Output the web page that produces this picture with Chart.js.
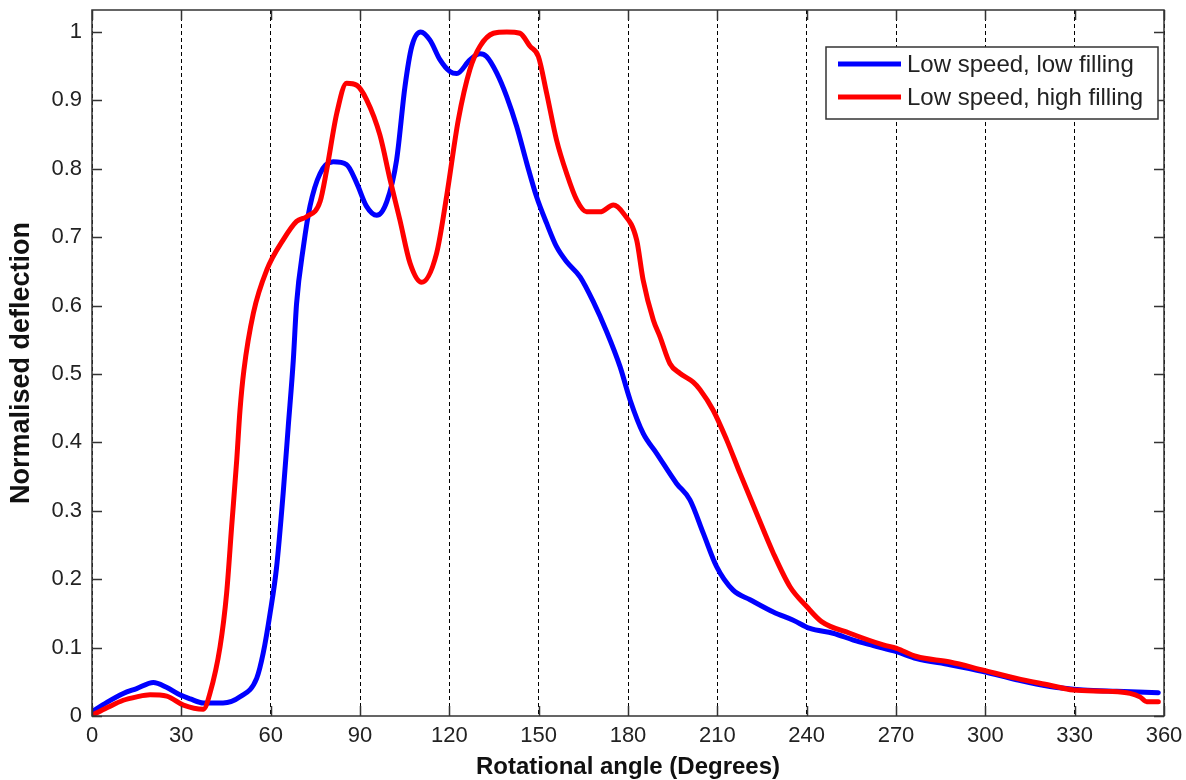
<!DOCTYPE html>
<html>
<head>
<meta charset="utf-8">
<script src="https://cdn.jsdelivr.net/npm/chart.js@4.4.1/dist/chart.umd.min.js"></script>
<style>
html, body { margin: 0; padding: 0; background: #fff; }
#wrap { width: 1186px; height: 780px; }
</style>
</head>
<body>
<div id="wrap"><canvas id="grafico"></canvas></div>
<script>
// Low speed, low filling (blue)
var angoliBlu = [0, 5, 10.5, 15, 20.6, 25, 29.5, 33, 37.4, 44, 49.7, 55.3, 57.5, 59.8, 62, 64.2, 65.9, 67.6,
    68.7, 71, 73.2, 76.6, 81, 85.5, 88.9, 92.2, 95.6, 99, 102.3, 105.1, 107.4, 110.4, 113.5, 116.9, 120.2,
    122.5, 126.9, 130.3, 132.5, 135.9, 139.3, 142.6, 146, 149.3, 152.7, 156, 159.4, 163.9, 168.3, 172.8,
    177.3, 180.7, 185.1, 189.6, 196.3, 200.8, 205.3, 209.8, 215.3, 221, 228.8, 235.5, 241.1, 248.9, 255.7,
    262.4, 270.2, 276.9, 288.1, 299.3, 310.5, 321.7, 332.9, 344.1, 358.1];
var valoriBlu = [0.006, 0.02, 0.033, 0.04, 0.049, 0.042, 0.031, 0.025, 0.019, 0.019, 0.028, 0.055, 0.092, 0.15,
    0.218, 0.326, 0.423, 0.52, 0.603, 0.686, 0.745, 0.793, 0.81, 0.806, 0.779, 0.745, 0.732, 0.752, 0.813,
    0.92, 0.979, 1.0, 0.988, 0.959, 0.942, 0.939, 0.959, 0.968, 0.964, 0.94, 0.905, 0.862, 0.808, 0.759,
    0.72, 0.686, 0.664, 0.642, 0.606, 0.562, 0.511, 0.462, 0.413, 0.384, 0.34, 0.316, 0.267, 0.218, 0.184,
    0.17, 0.152, 0.14, 0.128, 0.121, 0.111, 0.103, 0.094, 0.084, 0.075, 0.065, 0.053, 0.043, 0.038, 0.036,
    0.034];

// Low speed, high filling (red)
var angoliRosso = [0, 5, 10.5, 15, 19.5, 25.1, 30.7, 37.4, 39.6, 43, 45.2, 46.9, 48.6, 49.7, 51, 54.2, 58.7,
    64.2, 68.7, 72.1, 76.6, 78.8, 82.2, 85.5, 88.9, 92.2, 96.7, 100.1, 103.4, 106.8, 110.7, 115.7, 119.1,
    123, 126.9, 130.3, 134.8, 139.3, 143.7, 147.1, 149.9, 152.7, 156, 159.4, 162.8, 166.1, 170.6, 175.1,
    178.4, 182.9, 185.1, 188.5, 190.7, 194.1, 197.4, 201.9, 204.2, 208.6, 213.1, 217.6, 223.2, 228.8,
    234.4, 240, 245, 254.5, 265.7, 270.2, 276.9, 288.1, 299.3, 310.5, 321.7, 329.5, 341.4, 348.6, 351.9,
    354.2, 358.1];
var valoriRosso = [0.001, 0.012, 0.023, 0.028, 0.031, 0.029, 0.016, 0.01, 0.033, 0.101, 0.179, 0.277, 0.374,
    0.447, 0.505, 0.589, 0.652, 0.696, 0.723, 0.73, 0.752, 0.798, 0.881, 0.925, 0.922, 0.901, 0.849, 0.784,
    0.725, 0.662, 0.634, 0.676, 0.76, 0.871, 0.945, 0.979, 0.998, 1.0, 0.998, 0.979, 0.964, 0.91, 0.842,
    0.793, 0.754, 0.737, 0.737, 0.747, 0.735, 0.696, 0.637, 0.579, 0.555, 0.515, 0.501, 0.488, 0.477, 0.447,
    0.404, 0.355, 0.296, 0.238, 0.189, 0.16, 0.138, 0.121, 0.104, 0.099, 0.087, 0.079, 0.067, 0.055, 0.045,
    0.038, 0.036, 0.033, 0.028, 0.021, 0.021];

var etichette = ['Low speed, low filling', 'Low speed, high filling'];
var colori = ['#0000ff', '#ff0000'];

var font = "'Liberation Sans', Arial, sans-serif";

function punti(xs, ys) {
    var out = [];
    for (var i = 0; i < xs.length; i++) {
        out.push({ x: xs[i], y: ys[i] });
    }
    return out;
}

// box, inward ticks and the legend, MATLAB style
var cornice = {
    id: 'cornice',
    afterDatasetsDraw: function (chart) {
        var ctx = chart.ctx;
        var a = chart.chartArea;
        var sx = chart.scales.x;
        var sy = chart.scales.y;
        var lung = 10;
        ctx.save();
        ctx.strokeStyle = '#333';
        ctx.lineWidth = 1.5;
        ctx.strokeRect(a.left, a.top, a.right - a.left, a.bottom - a.top);
        ctx.beginPath();
        sy.ticks.forEach(function (t) {
            var y = Math.round(sy.getPixelForValue(t.value)) + 0.5;
            ctx.moveTo(a.left, y); ctx.lineTo(a.left + lung, y);
            ctx.moveTo(a.right, y); ctx.lineTo(a.right - lung, y);
        });
        sx.ticks.forEach(function (t) {
            var x = Math.round(sx.getPixelForValue(t.value)) + 0.5;
            ctx.moveTo(x, a.bottom); ctx.lineTo(x, a.bottom - lung);
            ctx.moveTo(x, a.top); ctx.lineTo(x, a.top + lung);
        });
        ctx.stroke();

        // legend
        var bx = a.right - 338, by = a.top + 37, bw = 332, bh = 72;
        ctx.fillStyle = '#fff';
        ctx.fillRect(bx, by, bw, bh);
        ctx.strokeStyle = '#333';
        ctx.lineWidth = 1.5;
        ctx.strokeRect(bx, by, bw, bh);
        ctx.font = '24px ' + font;
        ctx.textBaseline = 'middle';
        ctx.textAlign = 'left';
        for (var i = 0; i < etichette.length; i++) {
            var ly = by + 17 + i * 33;
            ctx.strokeStyle = colori[i];
            ctx.lineWidth = 5;
            ctx.beginPath();
            ctx.moveTo(bx + 12, ly);
            ctx.lineTo(bx + 75, ly);
            ctx.stroke();
            ctx.fillStyle = '#222';
            ctx.fillText(etichette[i], bx + 81, ly + 1);
        }
        ctx.restore();
    }
};

var ctx = document.getElementById('grafico');
var chart = new Chart(ctx, {
    type: 'line',
    data: {
        datasets: [{
            label: etichette[0],
            data: punti(angoliBlu, valoriBlu),
            borderColor: colori[0],
            backgroundColor: colori[0],
            borderWidth: 5,
            order: 1
        }, {
            label: etichette[1],
            data: punti(angoliRosso, valoriRosso),
            borderColor: colori[1],
            backgroundColor: colori[1],
            borderWidth: 5,
            order: 0
        }]
    },
    options: {
        responsive: true,
        maintainAspectRatio: false,
        animation: false,
        layout: { padding: { left: 0, right: 22, top: 10, bottom: 0 } },
        elements: {
            point: { radius: 0 },
            line: { cubicInterpolationMode: 'monotone', borderCapStyle: 'round', borderJoinStyle: 'round' }
        },
        plugins: {
            legend: { display: false },
            tooltip: { enabled: false }
        },
        scales: {
            x: {
                type: 'linear',
                min: 0,
                max: 360,
                afterFit: function (s) {
                    s.height = 64;
                    s.paddingLeft = 0;
                    s.paddingRight = 0;
                },
                ticks: {
                    stepSize: 30,
                    color: '#222',
                    padding: 7,
                    maxRotation: 0,
                    font: { family: font, size: 22 }
                },
                grid: { color: '#000', lineWidth: 1, drawTicks: false },
                border: { display: false, dash: [4, 3] },
                title: {
                    display: true,
                    text: 'Rotational angle (Degrees)',
                    color: '#111',
                    font: { family: font, size: 24, weight: 'bold' },
                    padding: { top: 0, bottom: -2 }
                }
            },
            y: {
                min: 0,
                max: 1.032,
                afterFit: function (s) {
                    s.width = 92;
                    s.paddingTop = 0;
                    s.paddingBottom = 0;
                },
                ticks: {
                    stepSize: 0.1,
                    includeBounds: false,
                    color: '#222',
                    padding: 10,
                    font: { family: font, size: 22 },
                    callback: function (v) { return String(+v.toFixed(2)); }
                },
                grid: { display: false, drawTicks: false },
                border: { display: false },
                title: {
                    display: true,
                    text: 'Normalised deflection',
                    color: '#111',
                    font: { family: font, size: 27, weight: 'bold' },
                    padding: { top: 5, bottom: 0 }
                }
            }
        }
    },
    plugins: [cornice]
});
</script>
</body>
</html>
